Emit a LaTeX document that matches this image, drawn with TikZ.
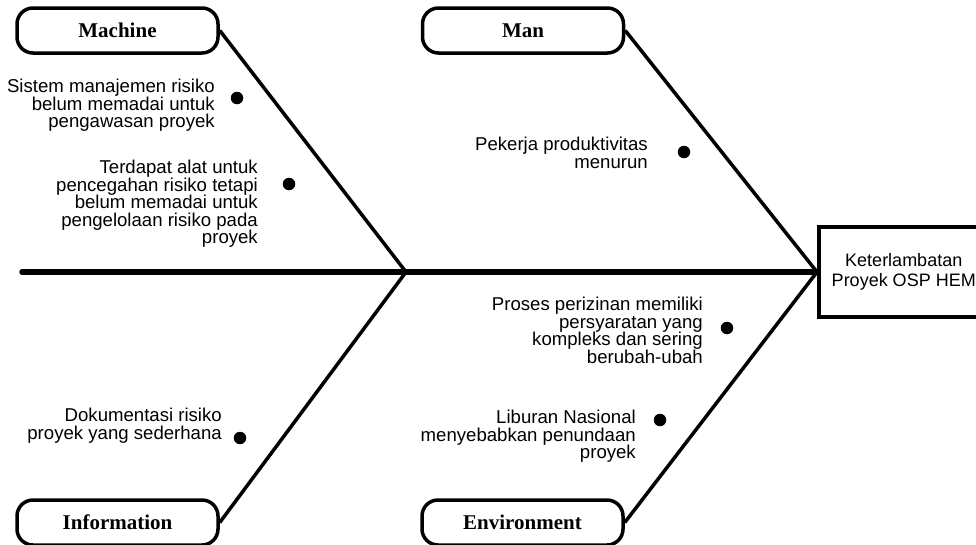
\documentclass[tikz,border=0pt]{standalone}
\usepackage{fontspec}
\setmainfont{Liberation Sans}
\newfontfamily\catfont{Liberation Serif}
\usetikzlibrary{positioning}
\lineskiplimit=-20pt

\tikzset{
  category/.style={draw, line width=3.5pt, rounded corners=16pt, minimum width=201pt, minimum height=45pt, inner sep=0pt, font=\catfont\bfseries\fontsize{21}{23}\selectfont},
  cause/.style={align=right, anchor=north east, inner sep=0pt, font=\fontsize{18.6}{17.5}\selectfont},
  bullet/.style={circle, fill=black, inner sep=0pt, minimum size=12.5pt},
  bone/.style={line width=3.5pt},
  spine/.style={line width=5.5pt, line cap=round},
}

\begin{document}
\begin{tikzpicture}[x=1pt, y=-1pt]
\useasboundingbox (0,0) rectangle (976,544);

% categories
\node [category] (machine) at (117.5, 30.5) {Machine};
\node [category] (man) at (523, 30.5) {Man};
\node [category] (information) at (117.5, 522.5) {Information};
\node [category] (environment) at (522.5, 522.5) {Environment};

% effect
\node [draw, line width=3.5pt, anchor=west, minimum width=170pt, minimum height=90pt, inner sep=0pt, align=center, font=\fontsize{18}{20}\selectfont] (effect) at (817, 272) {Keterlambatan\\Proyek OSP HEM};

\coordinate (tail) at (22, 272);
\coordinate (mid) at (406, 272);

\draw [spine] (tail) -- (effect.west);
\draw [bone] (machine.east) -- (mid);
\draw [bone] (information.east) -- (mid);
\draw [bone] (man.east) -- (effect.west);
\draw [bone] (environment.east) -- (effect.west);

% causes
\node [bullet] (dotA) at (237, 98) {};
\node [cause] (causeA) at (215, 79) {Sistem manajemen risiko\\belum memadai untuk\\pengawasan proyek};
\node [bullet] (dotB) at (289, 184) {};
\node [cause] (causeB) at (258, 160) {Terdapat alat untuk\\pencegahan risiko tetapi\\belum memadai untuk\\pengelolaan risiko pada\\proyek};
\node [bullet] (dotC) at (684, 152) {};
\node [cause] (causeC) at (648, 137) {Pekerja produktivitas\\menurun};
\node [bullet] (dotD) at (727, 328) {};
\node [cause] (causeD) at (703, 297) {Proses perizinan memiliki\\persyaratan yang\\kompleks dan sering\\berubah-ubah};
\node [bullet] (dotE) at (660, 420) {};
\node [cause] (causeE) at (636, 410) {Liburan Nasional\\menyebabkan penundaan\\proyek};
\node [bullet] (dotF) at (240, 438) {};
\node [cause] (causeF) at (222, 408) {Dokumentasi risiko\\proyek yang sederhana};

\end{tikzpicture}
\end{document}
